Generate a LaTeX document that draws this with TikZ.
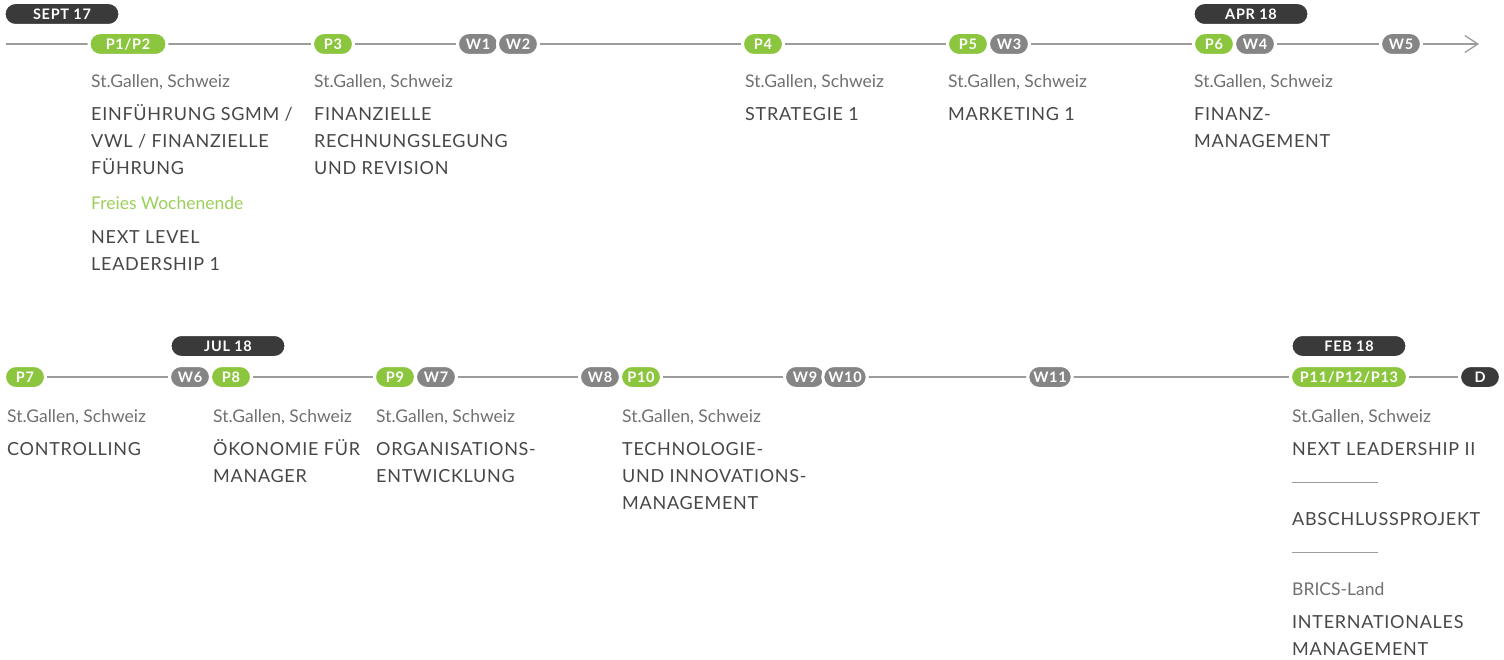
\documentclass[tikz,border=0pt]{standalone}
\usepackage{fontspec}
\setmainfont{Lato}
\usetikzlibrary{arrows.meta,backgrounds}
\definecolor{pgreen}{HTML}{8CC63F}
\definecolor{pgray}{HTML}{858585}
\definecolor{pdark}{HTML}{3A3A3A}
\definecolor{tdark}{HTML}{474747}
\definecolor{tloc}{HTML}{707070}
\definecolor{tgreen}{HTML}{9CCF5A}
\definecolor{lgray}{HTML}{9C9C9C}
\tikzset{
  pill/.style={rectangle, rounded corners=11.5pt, draw=white, line width=3pt,
    minimum height=23pt, minimum width=41pt, inner xsep=5.5pt, inner ysep=0pt,
    text height=10.5pt, text depth=0pt, text=white,
    font=\bfseries\fontsize{14.5}{14.5}\selectfont\addfontfeatures{LetterSpace=5}},
  gpill/.style={pill, fill=pgreen},
  wpill/.style={pill, fill=pgray},
  dpill/.style={pill, fill=pdark},
  datepill/.style={pill, fill=pdark, minimum width=116pt},
  loc/.style={anchor=base west, inner sep=0pt, text=tloc, font=\fontsize{17.5}{17.5}\selectfont},
  freetxt/.style={loc, text=tgreen},
  title/.style={anchor=base west, inner sep=0pt, align=left, text=tdark,
    font=\fontsize{18}{27}\selectfont\addfontfeatures{LetterSpace=4}},
  tline/.style={draw=lgray, line width=1.3pt},
  rule/.style={draw=lgray, line width=1pt}
}
\begin{document}
\begin{tikzpicture}[x=1pt,y=-1pt]
\useasboundingbox (0,0) rectangle (1504,660);
% ---------- top row ----------
\coordinate (s1) at (6,44);
\coordinate (e1) at (1479,44);
\node[datepill] (sept) at (62,14) {SEPT 17};
\node[gpill, minimum width=78pt] (p12) at (128,44) {P1/P2};
\node[gpill] (p3) at (333,44) {P3};
\node[wpill] (w1) at (478,44) {W1};
\node[wpill] (w2) at (518,44) {W2};
\node[gpill] (p4) at (763,44) {P4};
\node[gpill] (p5) at (968,44) {P5};
\node[wpill] (w3) at (1009,44) {W3};
\node[datepill] (apr) at (1251,14) {APR 18};
\node[gpill] (p6) at (1214,44) {P6};
\node[wpill] (w4) at (1255,44) {W4};
\node[wpill] (w5) at (1401,44) {W5};
\begin{scope}[on background layer]
\draw[tline, -{Straight Barb[length=13pt,width=17pt,line width=1.3pt]}] (s1) -- (e1);
\end{scope}

\node[loc] (l1) at (91,88) {St.Gallen, Schweiz};
\node[title] (t1) at (91,175) {EINFÜHRUNG SGMM /\\VWL / FINANZIELLE\\FÜHRUNG};
\node[freetxt] (f1) at (91,210) {Freies Wochenende};
\node[title] (t1b) at (91,271) {NEXT LEVEL\\LEADERSHIP 1};

\node[loc] (l3) at (314,88) {St.Gallen, Schweiz};
\node[title] (t3) at (314,175) {FINANZIELLE\\RECHNUNGSLEGUNG\\UND REVISION};

\node[loc] (l4) at (745,88) {St.Gallen, Schweiz};
\node[title] (t4) at (745,121) {STRATEGIE 1};

\node[loc] (l5) at (948,88) {St.Gallen, Schweiz};
\node[title] (t5) at (948,121) {MARKETING 1};

\node[loc] (l6) at (1194,88) {St.Gallen, Schweiz};
\node[title] (t6) at (1194,148) {FINANZ-\\MANAGEMENT};

% ---------- bottom row ----------
\node[gpill] (p7) at (25,377) {P7};
\node[datepill] (jul) at (228,346) {JUL 18};
\node[wpill] (w6) at (190,377) {W6};
\node[gpill] (p8) at (231,377) {P8};
\node[gpill] (p9) at (395,377) {P9};
\node[wpill] (w7) at (436,377) {W7};
\node[wpill] (w8) at (600,377) {W8};
\node[gpill] (p10) at (641,377) {P10};
\node[wpill] (w9) at (805,377) {W9};
\node[wpill] (w10) at (845,377) {W10};
\node[wpill] (w11) at (1050,377) {W11};
\node[datepill] (feb) at (1349,346) {FEB 18};
\node[gpill, minimum width=117pt] (p11) at (1349,377) {P11/P12/P13};
\node[dpill] (d) at (1480,377) {D};
\begin{scope}[on background layer]
\draw[tline] (p7) -- (d);
\end{scope}

\node[loc] (l7) at (7,422) {St.Gallen, Schweiz};
\node[title] (t7) at (7,455) {CONTROLLING};

\node[loc] (l8) at (213,422) {St.Gallen, Schweiz};
\node[title] (t8) at (213,482) {ÖKONOMIE FÜR\\MANAGER};

\node[loc] (l9) at (376,422) {St.Gallen, Schweiz};
\node[title] (t9) at (376,482) {ORGANISATIONS-\\ENTWICKLUNG};

\node[loc] (l10) at (622,422) {St.Gallen, Schweiz};
\node[title] (t10) at (622,509) {TECHNOLOGIE-\\UND INNOVATIONS-\\MANAGEMENT};

\node[loc] (l11) at (1292,422) {St.Gallen, Schweiz};
\node[title] (t11) at (1292,455) {NEXT LEADERSHIP II};
\coordinate (r1a) at (1292,482);
\coordinate (r1b) at (1378,482);
\draw[rule] (r1a) -- (r1b);
\node[title] (t12) at (1292,525) {ABSCHLUSSPROJEKT};
\coordinate (r2a) at (1292,552);
\coordinate (r2b) at (1378,552);
\draw[rule] (r2a) -- (r2b);
\node[loc] (l13) at (1292,595) {BRICS-Land};
\node[title] (t13) at (1292,655) {INTERNATIONALES\\MANAGEMENT};
\end{tikzpicture}
\end{document}
